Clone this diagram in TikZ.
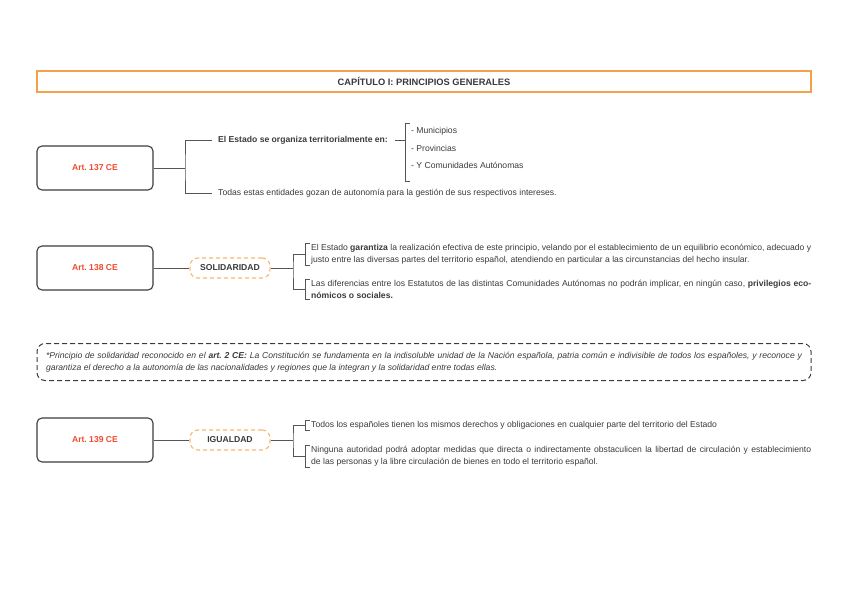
\documentclass[tikz,border=0pt]{standalone}
\usepackage{fontspec}
\setmainfont{Liberation Sans}
\frenchspacing
\definecolor{txt}{HTML}{3A3A3A}
\definecolor{linegrey}{HTML}{555555}
\definecolor{boxgrey}{HTML}{3C3C3C}
\definecolor{artred}{HTML}{EF4B2C}
\definecolor{tagorange}{HTML}{F9B56E}
\definecolor{titleorange}{HTML}{F5A04A}
\newcommand\myfs{\fontsize{8.6}{12}\selectfont}
\tikzset{
  conn/.style={draw=linegrey, line width=0.9pt},
  artbox/.style={draw=boxgrey, line width=1.1pt, rounded corners=5pt, minimum width=116pt, minimum height=44pt, font=\myfs\bfseries, text=artred},
  tagbox/.style={draw=tagorange, dash pattern=on 4pt off 3pt, line width=1.1pt, rounded corners=8pt, minimum width=80pt, minimum height=20pt, font=\myfs\bfseries, text=txt},
  txtnode/.style={inner sep=0pt, font=\myfs, text=txt, anchor=west},
  para/.style={inner sep=0pt, font=\myfs, text=txt, anchor=north west, text width=500pt, align=justify},
  fnbox/.style={draw=boxgrey, dash pattern=on 5pt off 3pt, line width=1pt, rounded corners=8pt, text width=756pt, inner xsep=9pt, minimum height=37pt, align=justify, font=\myfs\itshape, text=txt},
}
\begin{document}
\begin{tikzpicture}[x=1pt,y=-1pt]
\useasboundingbox (0,0) rectangle (848,599);
% title
\node[draw=titleorange, line width=1.6pt, minimum width=774pt, minimum height=21pt, font=\fontsize{9.3}{10}\selectfont\bfseries, text=txt] (title) at (424,81.5) {CAPÍTULO I: PRINCIPIOS GENERALES};

% Art 137
\node[artbox] (a137) at (95,168) {Art. 137 CE};
\node[txtnode, font=\myfs\bfseries] (t137a) at (218,140) {El Estado se organiza territorialmente en:};
\node[txtnode] (t137b) at (218,193) {Todas estas entidades gozan de autonomía para la gestión de sus respectivos intereses.};
\node[txtnode] (l1) at (411,131) {- Municipios};
\node[txtnode] (l2) at (411,148) {- Provincias};
\node[txtnode] (l3) at (411,165) {- Y Comunidades Autónomas};
\coordinate (j1) at (185,168);
\draw[conn] (a137.east) -- (j1);
\draw[conn] ([xshift=-6pt]t137a.west) -| (j1) |- ([xshift=-6pt]t137b.west);
\coordinate (j1b) at (405,140);
\coordinate (lt) at (405,123);
\coordinate (lb) at (405,181);
\draw[conn] ([xshift=7pt]t137a.east) -- (j1b);
\draw[conn] ([xshift=5pt]lt) -- (lt) -- (lb) -- ([xshift=5pt]lb);

% Art 138
\node[artbox] (a138) at (95,268) {Art. 138 CE};
\node[tagbox] (sol) at (230,268) {SOLIDARIDAD};
\draw[conn] (a138.east) -- (sol.west);
\coordinate (j2) at (293,268);
\draw[conn] (sol.east) -- (j2);
\node[para] (p1) at (311,244) {El Estado \textbf{garantiza} la realización efectiva de este principio, velando por el establecimiento de un equilibrio económico, adecuado y\linebreak justo entre las diversas partes del territorio español, atendiendo en particular a las circunstancias del hecho insular.};
\node[para] (p2) at (311,280) {Las diferencias entre los Estatutos de las distintas Comunidades Autónomas no podrán implicar, en ningún caso, \textbf{privilegios eco-}\linebreak\textbf{nómicos o sociales.}};
\draw[conn] ([xshift=-6pt]p1.west) -| (j2) |- ([xshift=-6pt]p2.west);
\draw[conn] ([xshift=-1pt,yshift=1pt]p1.north west) -- ++(-5,0) |- ([xshift=-1pt,yshift=-1pt]p1.south west);
\draw[conn] ([xshift=-1pt,yshift=1pt]p2.north west) -- ++(-5,0) |- ([xshift=-1pt,yshift=-1pt]p2.south west);

% footnote
\node[fnbox] (fn) at (424,362) {*Principio de solidaridad reconocido en el \textbf{art. 2 CE:} La Constitución se fundamenta en la indisoluble unidad de la Nación española, patria común e indivisible de todos los españoles, y reconoce y\linebreak garantiza el derecho a la autonomía de las nacionalidades y regiones que la integran y la solidaridad entre todas ellas.};

% Art 139
\node[artbox] (a139) at (95,440) {Art. 139 CE};
\node[tagbox] (igu) at (230,440) {IGUALDAD};
\draw[conn] (a139.east) -- (igu.west);
\coordinate (j3) at (293,440);
\draw[conn] (igu.east) -- (j3);
\node[para] (p3) at (311,421) {Todos los españoles tienen los mismos derechos y obligaciones en cualquier parte del territorio del Estado};
\node[para] (p4) at (311,446) {Ninguna autoridad podrá adoptar medidas que directa o indirectamente obstaculicen la libertad de circulación y establecimiento\linebreak de las personas y la libre circulación de bienes en todo el territorio español.};
\draw[conn] ([xshift=-6pt]p3.west) -| (j3) |- ([xshift=-6pt]p4.west);
\draw[conn] ([xshift=-1pt,yshift=1pt]p3.north west) -- ++(-5,0) |- ([xshift=-1pt,yshift=-1pt]p3.south west);
\draw[conn] ([xshift=-1pt,yshift=1pt]p4.north west) -- ++(-5,0) |- ([xshift=-1pt,yshift=-1pt]p4.south west);
\end{tikzpicture}
\end{document}
